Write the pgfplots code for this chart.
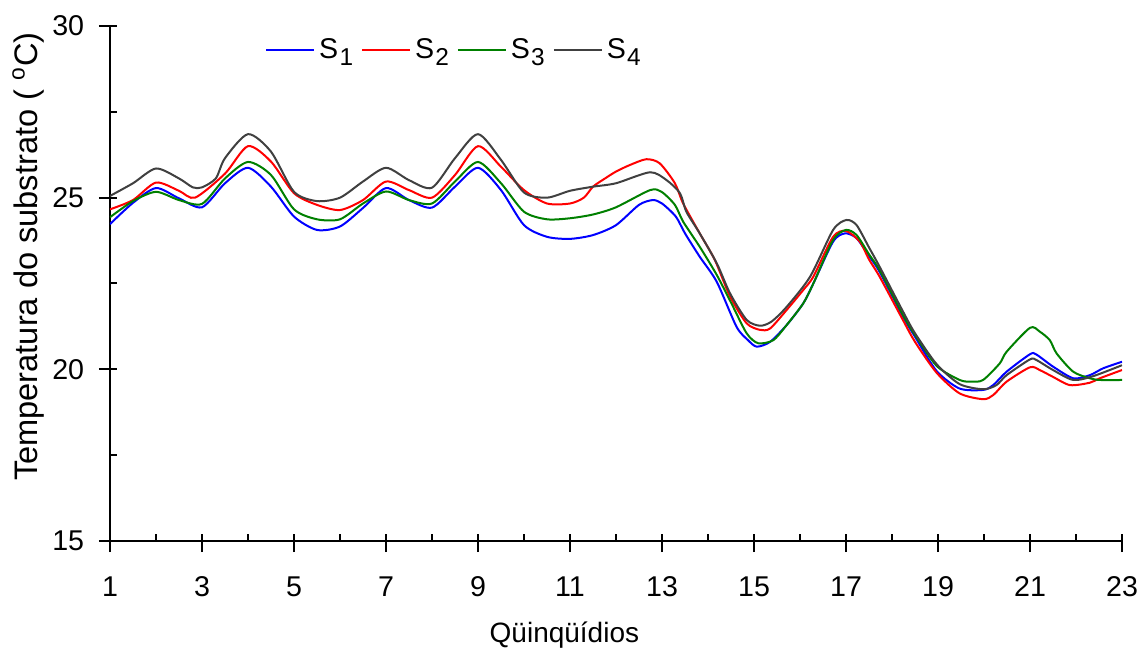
\documentclass[border=0pt]{standalone}
\usepackage{pgfplots}
\pgfplotsset{compat=1.18}
\usepackage{pgfplotstable}
\usepackage{fontspec}
\setmainfont{Liberation Sans}

\definecolor{sOne}{RGB}{0,0,255}
\definecolor{sTwo}{RGB}{255,0,0}
\definecolor{sThree}{RGB}{0,128,0}
\definecolor{sFour}{RGB}{64,64,64}

% series name with a large, lowered index
\newcommand{\sname}[1]{S\hspace{0.6pt}\raisebox{-3.5pt}{\fontsize{12.2}{14}\selectfont #1}}

% Substrate temperature per five-day period (quinquidio)
\pgfplotstableread{
x y
1 24.23
1.5 24.85
2 25.28
2.5 24.98
3 24.72
3.5 25.42
4 25.87
4.5 25.32
5 24.45
5.5 24.06
6 24.16
6.5 24.70
7 25.28
7.5 24.93
8 24.71
8.5 25.32
9 25.87
9.5 25.22
10 24.20
10.5 23.86
11 23.80
11.5 23.91
12 24.20
12.5 24.79
12.8 24.93
13 24.83
13.3 24.45
13.5 23.96
13.82 23.28
14.19 22.55
14.62 21.24
14.87 20.85
15.06 20.66
15.35 20.80
15.71 21.29
16.07 21.92
16.29 22.50
16.72 23.72
16.98 23.96
17.23 23.82
17.5 23.30
17.73 22.84
18.24 21.53
18.5 20.95
18.97 19.95
19.47 19.44
19.98 19.40
20.2 19.54
20.49 19.93
21.0 20.44
21.14 20.43
21.5 20.08
21.94 19.74
22.3 19.83
22.59 20.03
23.0 20.22
}\sone

\pgfplotstableread{
x y
1 24.66
1.5 24.93
2 25.44
2.5 25.20
2.85 25.00
3.5 25.70
4 26.50
4.5 26.05
5 25.13
5.5 24.79
6 24.64
6.5 24.93
7 25.47
7.5 25.22
8 25.00
8.5 25.66
9 26.50
9.5 25.90
10 25.22
10.5 24.83
11 24.83
11.3 25.00
11.5 25.32
11.75 25.55
12 25.76
12.3 25.95
12.66 26.12
12.95 26.00
13.28 25.42
13.46 24.83
13.82 23.96
14.15 23.18
14.48 22.12
14.84 21.34
15.13 21.15
15.35 21.19
15.71 21.73
16.07 22.31
16.29 22.70
16.72 23.86
17.0 24.03
17.3 23.72
17.5 23.20
17.73 22.70
18.24 21.43
18.5 20.80
18.97 19.90
19.47 19.30
19.98 19.13
20.2 19.25
20.49 19.64
21.0 20.06
21.21 19.98
21.5 19.78
21.87 19.54
22.3 19.61
22.52 19.74
23.0 19.98
}\stwo

\pgfplotstableread{
x y
1 24.43
1.5 24.90
2 25.17
2.5 24.93
3 24.82
3.5 25.56
4 26.04
4.5 25.66
5 24.66
5.5 24.37
6 24.37
6.5 24.83
7 25.18
7.5 24.93
8 24.83
8.5 25.47
9 26.04
9.5 25.42
10 24.59
10.5 24.37
11 24.40
11.5 24.51
12 24.72
12.74 25.22
12.99 25.17
13.28 24.79
13.46 24.30
13.82 23.57
14.19 22.75
14.51 21.92
14.84 21.05
15.09 20.76
15.42 20.85
15.71 21.29
16.07 21.92
16.29 22.50
16.72 23.77
17.0 24.06
17.23 23.91
17.5 23.35
17.73 22.89
18.24 21.58
18.5 21.00
18.97 20.10
19.47 19.69
19.73 19.64
19.98 19.69
20.34 20.17
20.49 20.51
21.0 21.21
21.21 21.10
21.43 20.85
21.58 20.46
21.94 19.93
22.3 19.74
22.52 19.69
23.0 19.69
}\sthree

\pgfplotstableread{
x y
1 25.05
1.5 25.42
2 25.85
2.5 25.56
2.8 25.30
3 25.30
3.3 25.56
3.5 26.15
4 26.85
4.5 26.34
5 25.17
5.5 24.90
6 25.00
6.5 25.47
7 25.87
7.5 25.51
8 25.29
8.5 26.15
9 26.85
9.5 26.10
10 25.15
10.5 25.00
11 25.20
11.5 25.32
12 25.42
12.74 25.74
13.1 25.51
13.39 25.13
13.53 24.59
13.82 23.96
14.19 23.09
14.48 22.21
14.84 21.44
15.13 21.27
15.38 21.39
15.71 21.82
16.22 22.70
16.72 24.06
17.01 24.35
17.23 24.20
17.5 23.55
17.73 22.99
18.24 21.68
18.5 21.05
18.97 20.15
19.47 19.57
19.98 19.42
20.27 19.54
20.49 19.83
21.0 20.29
21.14 20.27
21.5 19.98
21.94 19.69
22.37 19.80
23.0 20.12
}\sfour

\begin{document}
\begin{tikzpicture}
\fontsize{14.3}{17}\selectfont
\path[use as bounding box] (-55pt,-55.5pt) rectangle (516.5pt,270.5pt);
\begin{axis}[
  scale only axis,
  width=506pt, height=257.5pt,
  xmin=1, xmax=23, ymin=15, ymax=30,
  axis lines*=left,
  axis line style={line width=1pt},
  every tick/.style={black, line width=1pt},
  tick align=outside,
  major tick length=5.5pt,
  xtick={1,3,...,23},
  ytick={15,20,25,30},
  extra x ticks={2,4,...,22,1,3,...,23},
  extra x tick labels={},
  extra x tick style={tick align=inside, major tick length=3.4pt},
  extra y ticks={17.5,22.5,27.5,15,20,25,30},
  extra y tick labels={},
  extra y tick style={tick align=inside, major tick length=3.4pt},
  /pgf/number format/assume math mode=true,
  ticklabel style={font=\fontsize{14.3}{17}\selectfont},
  xticklabel style={yshift=-7.5pt},
  yticklabel style={xshift=-2.5pt},
  xlabel={Qüinqüídios},
  ylabel={Temperatura do substrato ( \textsuperscript{o}C)},
  every axis x label/.style={at={(axis description cs:0.449,-0.198)}, anchor=base, font=\fontsize{14}{16}\selectfont},
  every axis y label/.style={at={(axis description cs:-0.081,0.552)}, rotate=90, anchor=center, font=\fontsize{16.3}{19}\selectfont},
  legend columns=4,
  legend style={draw=none, fill=none, at={(axis description cs:0.153,0.953)}, anchor=west,
    inner sep=0pt, font=\fontsize{14.3}{17}\selectfont,
    /tikz/every even column/.append style={column sep=2pt}},
  legend image code/.code={\draw[#1] (0pt,0pt) -- (24pt,0pt);},
  every axis plot/.append style={line width=1pt, smooth, tension=0.45},
]
\addplot[sOne] table {\sone};
\addlegendentry{\sname{1}}
\addplot[sTwo] table {\stwo};
\addlegendentry{\sname{2}}
\addplot[sThree] table {\sthree};
\addlegendentry{\sname{3}}
\addplot[sFour] table {\sfour};
\addlegendentry{\sname{4}}
\end{axis}
\end{tikzpicture}
\end{document}
